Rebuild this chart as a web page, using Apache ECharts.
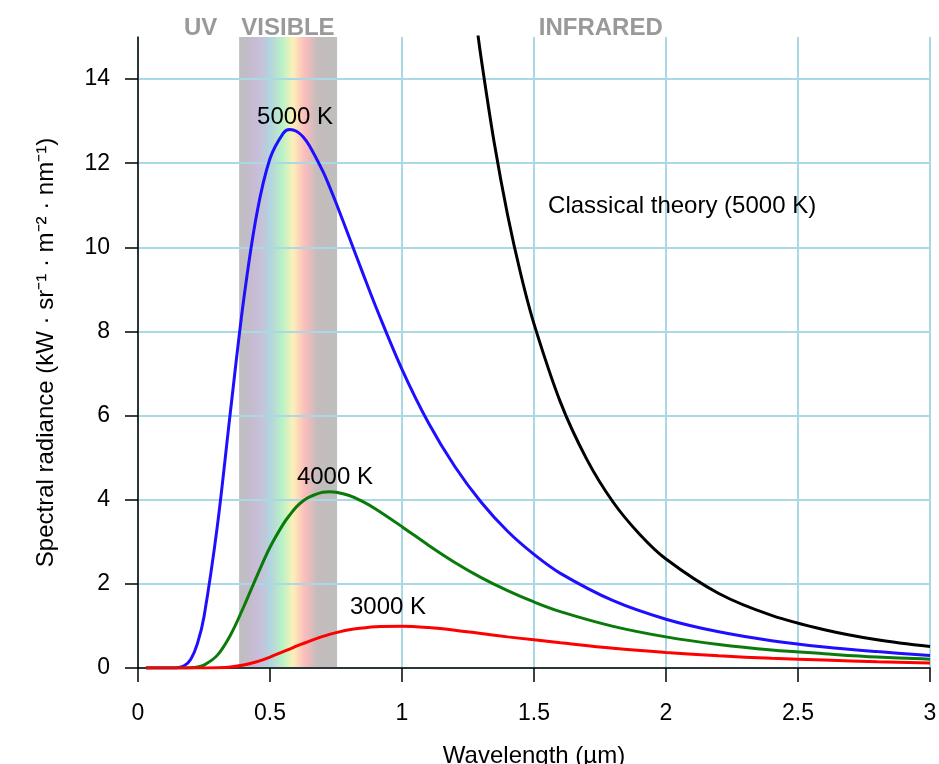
<!DOCTYPE html>
<html><head><meta charset="utf-8">
<script src="https://cdn.jsdelivr.net/npm/echarts@6/dist/echarts.min.js"></script>
<style>html,body{margin:0;padding:0;background:#fff}#c{width:939px;height:764px}</style>
</head><body><div id="c"></div>
<script>
// Wavelengths (µm) and spectral radiance (kW·sr⁻¹·m⁻²·nm⁻¹)
const wavelengths = [0.03,0.1,0.15,0.175,0.2,0.225,0.25,0.3,0.35,0.4,0.45,0.5,0.55,0.575,0.6,0.625,0.65,0.7,0.725,0.75,0.8,0.85,0.9,1.0,1.1,1.2,1.3,1.4,1.5,1.6,1.8,2.0,2.2,2.4,2.6,2.8,3.0];
const rad5000 = [0,0,0.007,0.052,0.21,0.58,1.22,3.35,6.09,8.74,10.80,12.11,12.71,12.80,12.76,12.63,12.41,11.81,11.45,11.06,10.24,9.41,8.60,7.10,5.83,4.79,3.94,3.25,2.70,2.25,1.60,1.16,0.86,0.65,0.50,0.39,0.30];
const rad4000 = [0,0,0,0.001,0.006,0.024,0.069,0.30,0.78,1.45,2.18,2.87,3.42,3.64,3.83,3.97,4.07,4.18,4.19,4.18,4.10,3.96,3.78,3.36,2.92,2.51,2.15,1.84,1.57,1.34,0.99,0.74,0.56,0.43,0.34,0.26,0.21];
const rad3000 = [0,0,0,0,0,0,0.001,0.006,0.025,0.072,0.15,0.26,0.39,0.45,0.52,0.58,0.64,0.75,0.80,0.84,0.91,0.95,0.98,0.99,0.96,0.90,0.82,0.74,0.67,0.60,0.47,0.37,0.29,0.23,0.19,0.15,0.12];
const classicalWl = [1.28,1.3,1.35,1.4,1.45,1.5,1.6,1.7,1.8,1.9,2.0,2.2,2.4,2.6,2.8,3.0];
const classical5000 = [15.42,14.49,12.46,10.77,9.36,8.18,6.32,4.96,3.94,3.18,2.59,1.77,1.25,0.91,0.67,0.51];
const yTicks = [0,2,4,6,8,10,12,14];
const visibleRange = [0.383,0.754];
const curveLabels = [
  {text:'5000 K', at:[0.595,13.1]},
  {text:'4000 K', at:[0.746,4.52]},
  {text:'3000 K', at:[0.947,1.43]},
  {text:'Classical theory (5000 K)', at:[2.061,10.98]}
];
const regionLabels = [
  {text:'UV', at:[0.237,15.2]},
  {text:'VISIBLE', at:[0.568,15.2]},
  {text:'INFRARED', at:[1.753,15.2]}
];

const FONT = "'Liberation Sans', Arial, sans-serif";
const zip = (xs, ys) => xs.map((x,i)=>[x, ys[i]]);
const GRID = '#a8d9e4';
const lineSeries = (data, color) => ({type:'line', z:3, data, smooth:0.35, showSymbol:false, lineStyle:{color, width:3}});

const chart = echarts.init(document.getElementById('c'));
chart.setOption({
  animation:false,
  backgroundColor:'#fff',
  grid:{left:138, right:9, top:37, bottom:96, containLabel:false, outerBoundsMode:'none'},
  xAxis:{
    type:'value', min:0, max:3, interval:0.5, z:2,
    name:'Wavelength (µm)', nameLocation:'middle', nameGap:76,
    nameTextStyle:{fontFamily:FONT, fontSize:24, color:'#000'},
    axisLine:{onZero:false, lineStyle:{color:'#000', width:1.5}},
    axisTick:{length:14, lineStyle:{color:'#000', width:1.5}},
    axisLabel:{fontFamily:FONT, fontSize:23, color:'#000', margin:34},
    splitLine:{show:true, lineStyle:{color:GRID, width:2}}
  },
  yAxis:{
    type:'value', min:0, max:15, z:2,
    name:'Spectral radiance (kW · sr⁻¹ · m⁻² · nm⁻¹)', nameLocation:'middle', nameGap:80,
    nameTextStyle:{fontFamily:FONT, fontSize:24, color:'#000'},
    axisLine:{show:true, lineStyle:{color:'#000', width:1.5}},
    axisTick:{show:true, length:13, customValues:yTicks, lineStyle:{color:'#000', width:1.5}},
    axisLabel:{fontFamily:FONT, fontSize:23, color:'#000', margin:28, customValues:yTicks},
    splitLine:{show:true, lineStyle:{color:GRID, width:2}}
  },
  series:[
    {
      type:'line', data:[], z:1, silent:true,
      markArea:{
        silent:true,
        itemStyle:{color:{type:'linear', x:0, y:0, x2:1, y2:0, colorStops:[
          {offset:0, color:'#c0bec0'},
          {offset:0.09, color:'#c2bcc8'},
          {offset:0.18, color:'#c8bcd8'},
          {offset:0.32, color:'#b8d2dc'},
          {offset:0.44, color:'#b8f2c6'},
          {offset:0.55, color:'#fcf0b8'},
          {offset:0.67, color:'#fcbcbc'},
          {offset:0.8, color:'#c4bcbc'},
          {offset:1, color:'#c0bebe'}
        ]}},
        data:[[{xAxis:visibleRange[0], yAxis:0},{xAxis:visibleRange[1], yAxis:15}]]
      }
    },
    Object.assign(lineSeries(zip(wavelengths, rad5000), '#1f0fff'), {
      markPoint:{symbol:'circle', symbolSize:0, silent:true,
        label:{show:true, position:'inside', fontFamily:FONT, fontSize:24, color:'#000', formatter:p=>p.name},
        data:curveLabels.map(l=>({name:l.text, coord:l.at}))}}),
    lineSeries(zip(wavelengths, rad4000), '#0a7a0a'),
    lineSeries(zip(wavelengths, rad3000), '#ff0000'),
    Object.assign(lineSeries(zip(classicalWl, classical5000), '#000'), {clip:true})
  ]
});
chart.setOption({
  graphic: regionLabels.map(l => {
    const p = chart.convertToPixel({gridIndex:0}, l.at);
    return {type:'text', x:p[0], y:p[1], z:10, silent:true,
      style:{text:l.text, fontFamily:FONT, fontSize:24, fontWeight:'bold', fill:'#999', align:'center', verticalAlign:'middle'}};
  })
});
</script></body></html>
